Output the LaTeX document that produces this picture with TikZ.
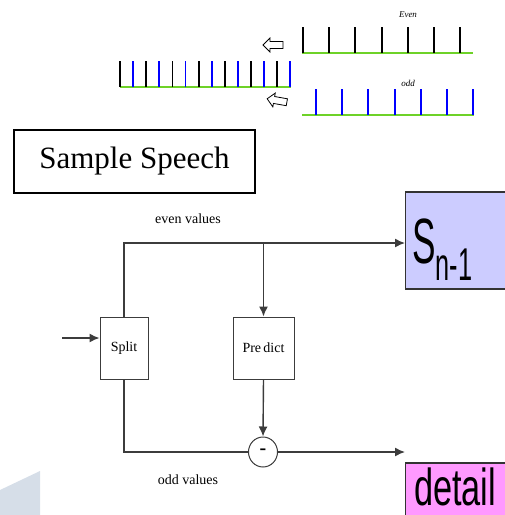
\documentclass[tikz,border=0pt]{standalone}
\usepackage{fontspec}
\setmainfont{Liberation Serif}
\newfontfamily\arialfont{Liberation Sans}
\usepackage{tikz}
\usetikzlibrary{arrows.meta,shapes.geometric}
\definecolor{sboxfill}{RGB}{204,204,255}
\definecolor{dboxfill}{RGB}{255,153,255}
\definecolor{baseline}{RGB}{110,210,40}
\definecolor{wmark}{RGB}{214,222,232}
\definecolor{flowgray}{RGB}{60,60,60}

\begin{document}
\begin{tikzpicture}[x=1pt, y=-1pt]
				\tikzset{block/.style = {shape=rectangle, draw=flowgray, line width=1pt, inner sep=0pt, font=\fontsize{14}{14}\selectfont},
					flow/.style = {draw=flowgray, line width=1.4pt, -{Latex[length=10pt,width=9pt]}},
					tick/.style = {line width=1.8pt},
					base/.style = {draw=baseline, line width=1.5pt},
					hollow/.style = {draw=black, line width=0.8pt, fill=white},
					outbox/.style = {shape=rectangle, draw=black!80, line width=1.2pt, inner sep=0pt, anchor=west}}
				
				\useasboundingbox (0,0) rectangle (505,515);
				\clip (0,0) rectangle (505,515);
				
				% watermark corner
				\fill[wmark] (0,490) -- (40,471) -- (40,515) -- (0,515) -- cycle;
				
				% sampled signal
				\draw[base] (120,87) -- (291,87);
				\draw[tick] (120,61) -- (120,87) (146.2,61) -- (146.2,87) (172.4,61) -- (172.4,87) (198.6,61) -- (198.6,87) (224.8,61) -- (224.8,87) (251,61) -- (251,87) (277.2,61) -- (277.2,87);
				\draw[tick, blue] (133.1,61) -- (133.1,87) (159.3,61) -- (159.3,87) (185.5,61) -- (185.5,87) (211.7,61) -- (211.7,87) (237.9,61) -- (237.9,87) (264.1,61) -- (264.1,87) (290.3,61) -- (290.3,87);
				
				\draw[base] (302,53) -- (473,53);
				\draw[tick] (302.7,27) -- (302.7,53) (329.3,27) -- (329.3,53) (355.3,27) -- (355.3,53) (381.7,27) -- (381.7,53) (407.7,27) -- (407.7,53) (434,27) -- (434,53) (460,27) -- (460,53);
				\node[] (label_even) at (408,15) {\fontsize{9}{9}\selectfont\itshape Even};
				
				\draw[base] (302,115) -- (474,115);
				\draw[tick, blue] (316,89) -- (316,115) (342.3,89) -- (342.3,115) (368.3,89) -- (368.3,115) (394.7,89) -- (394.7,115) (420.7,89) -- (420.7,115) (446.7,89) -- (446.7,115) (473,89) -- (473,115);
				\node[] (label_odd) at (408,83) {\fontsize{9}{9}\selectfont\itshape odd};
				
				\draw[hollow, shift={(273,45)}] (-10,0) -- (-3,-7) -- (-3,-3.5) -- (10,-3.5) -- (10,3.5) -- (-3,3.5) -- (-3,7) -- cycle;
				\draw[hollow, shift={(277,100.5)}, rotate=-10] (-10,0) -- (-3,-7) -- (-3,-3.5) -- (10,-3.5) -- (10,3.5) -- (-3,3.5) -- (-3,7) -- cycle;
				
				\node[shape=rectangle, draw, line width=1.2pt, minimum width=241pt, minimum height=63pt, font=\fontsize{31}{31}\selectfont] (speech) at (134.5,161.5) {Sample Speech};
				
				% lifting scheme
				\node[block, minimum width=48pt, minimum height=62pt] (split) at (124,348) {Split};
				\node[block, minimum width=61pt, minimum height=62pt] (predict) at (263.5,348) {Pre\,dict};
				\node[shape=ellipse, draw=flowgray, line width=1pt, minimum width=29pt, minimum height=30pt, inner sep=0pt, font=\fontsize{20}{20}\selectfont\bfseries] (minus) at (263,452) {-};
				\node[outbox, fill=sboxfill, minimum width=115pt, minimum height=97pt] (sbox) at (405,240.5) {};
				\node[anchor=base west, xscale=0.55, inner sep=0pt] (label_sbox) at (412,263) {\arialfont\fontsize{64}{64}\selectfont S\raisebox{-17pt}{\fontsize{46}{46}\selectfont n-1}};
				\node[outbox, fill=dboxfill, minimum width=115pt, minimum height=62pt] (dbox) at (405,494) {};
				\node[anchor=base west, xscale=0.66, inner sep=0pt] (label_dbox) at (414,505) {\arialfont\fontsize{52}{52}\selectfont detail};
				
				\coordinate (in) at (62,338);
				\coordinate (etop) at (124,243);
				\coordinate (obot) at (124,452);
				
				\draw[flow] (in) -- (in -| split.west);
				\draw[flow] (split.north) -- (etop) -- (etop -| sbox.west);
				\draw[flow] (etop -| predict.north) -- (predict.north);
				\draw[flow] (predict.south) -- (minus.north);
				\draw[draw=flowgray, line width=1.4pt] (split.south) -- (obot) -- (minus.west);
				\draw[flow] (minus.east) -- (obot -| dbox.west);
				
				\node[font=\fontsize{14}{14}\selectfont] (label_evenv) at (188,219) {even values};
				\node[font=\fontsize{14}{14}\selectfont] (label_oddv) at (188,480) {odd values};
				
			\end{tikzpicture}
\end{document}
